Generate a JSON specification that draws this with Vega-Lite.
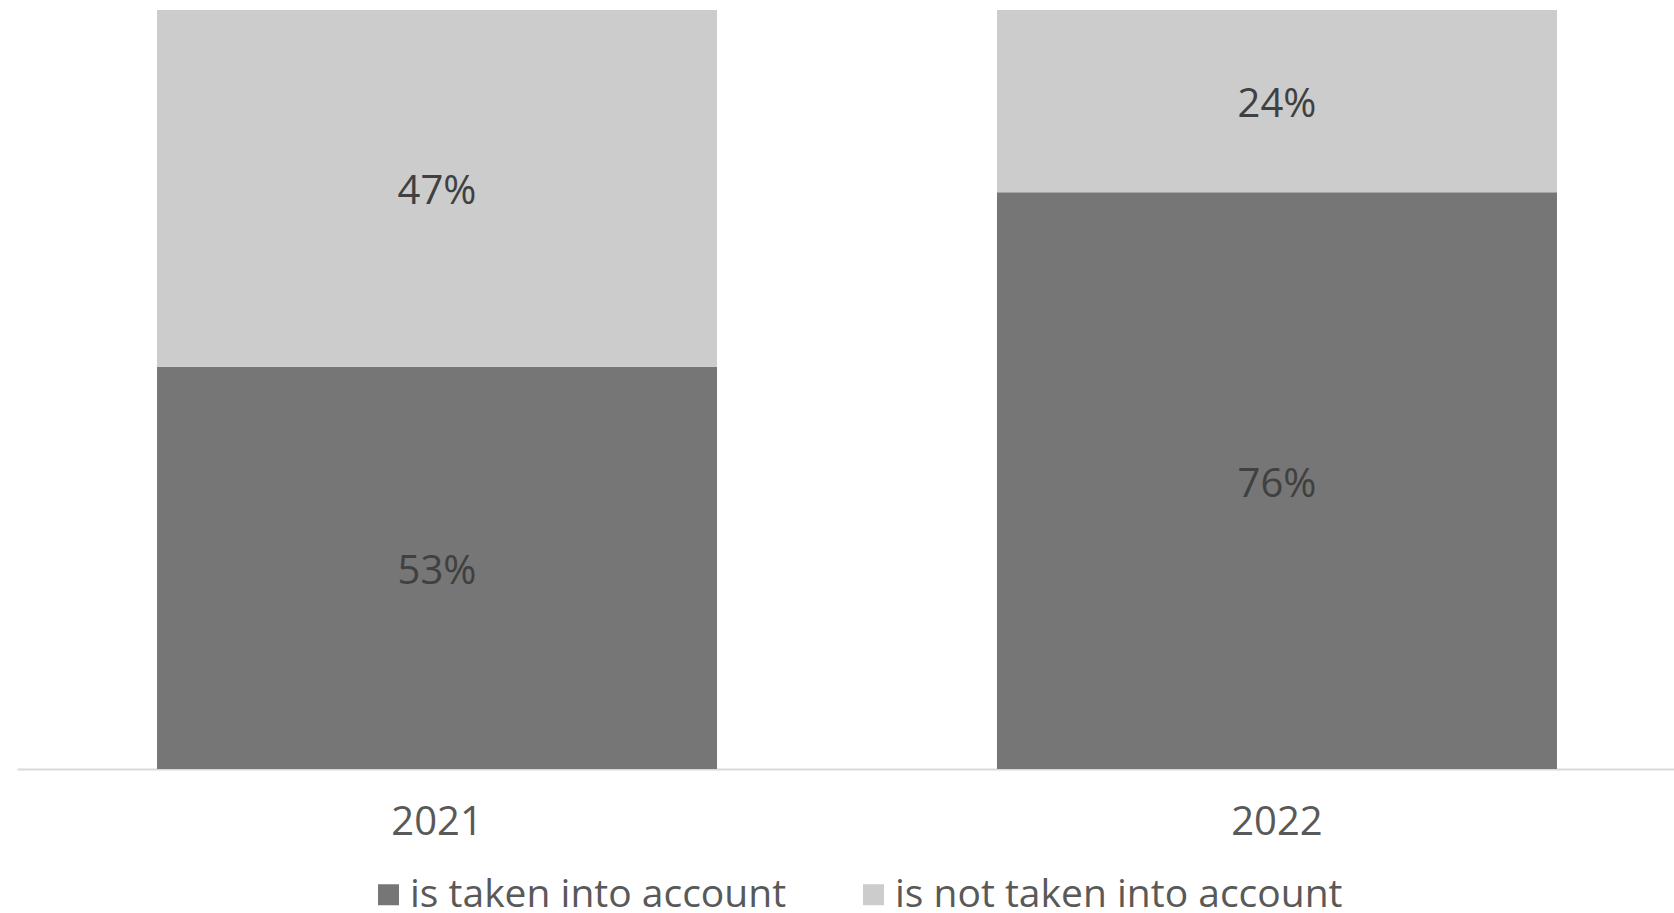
{
  "$schema": "https://vega.github.io/schema/vega-lite/v6.json",
  "width": 1680,
  "height": 759,
  "autosize": {"type": "none"},
  "padding": {"left": 17, "top": 10, "right": 0, "bottom": 144},
  "background": "white",
  "config": {"view": {"stroke": null}, "font": "Open Sans"},
  "data": {
    "values": [
      {"year": "2021", "status": "is taken into account", "value": 53, "label": "53%"},
      {"year": "2021", "status": "is not taken into account", "value": 47, "label": "47%"},
      {"year": "2022", "status": "is taken into account", "value": 76, "label": "76%"},
      {"year": "2022", "status": "is not taken into account", "value": 24, "label": "24%"}
    ]
  },
  "encoding": {
    "x": {
      "field": "year",
      "type": "nominal",
      "scale": {"paddingInner": 0.3333, "paddingOuter": 0.1667},
      "axis": {
        "title": null,
        "labelAngle": 0,
        "labelFontSize": 40,
        "labelColor": "#595959",
        "labelBaseline": "middle",
        "labelPadding": 53,
        "ticks": false,
        "domainColor": "#d9d9d9",
        "domainWidth": 2
      }
    }
  },
  "layer": [
    {
      "mark": {"type": "bar"},
      "encoding": {
        "y": {
          "field": "value",
          "type": "quantitative",
          "stack": "zero",
          "scale": {"domain": [0, 100]},
          "axis": null
        },
        "order": {"field": "status", "sort": "descending"},
        "color": {
          "field": "status",
          "type": "nominal",
          "scale": {
            "domain": ["is taken into account", "is not taken into account"],
            "range": ["#767676", "#cccccc"]
          },
          "legend": {
            "title": null,
            "orient": "none",
            "direction": "horizontal",
            "legendX": 352,
            "legendY": 865,
            "symbolType": "square",
            "symbolSize": 441,
            "symbolStrokeWidth": 0,
            "labelFontSize": 39,
            "labelLimit": 0,
            "labelColor": "#595959",
            "labelOffset": 2,
            "columnPadding": 67,
            "symbolOffset": 0
          }
        }
      }
    },
    {
      "transform": [{"filter": "datum.status === 'is taken into account'"}],
      "mark": {"type": "text", "fontSize": 40, "color": "#404040", "baseline": "middle", "dy": 4},
      "encoding": {
        "y": {
          "field": "value",
          "type": "quantitative",
          "stack": null,
          "scale": {"domain": [0, 200]},
          "axis": null
        },
        "text": {"field": "label"}
      }
    },
    {
      "transform": [{"filter": "datum.status === 'is not taken into account'"}],
      "mark": {"type": "text", "fontSize": 40, "color": "#404040", "baseline": "middle", "dy": 4},
      "encoding": {
        "y": {
          "field": "value",
          "type": "quantitative",
          "stack": null,
          "scale": {"domain": [0, 200], "reverse": true},
          "axis": null
        },
        "text": {"field": "label"}
      }
    }
  ],
  "resolve": {"scale": {"y": "independent"}}
}
